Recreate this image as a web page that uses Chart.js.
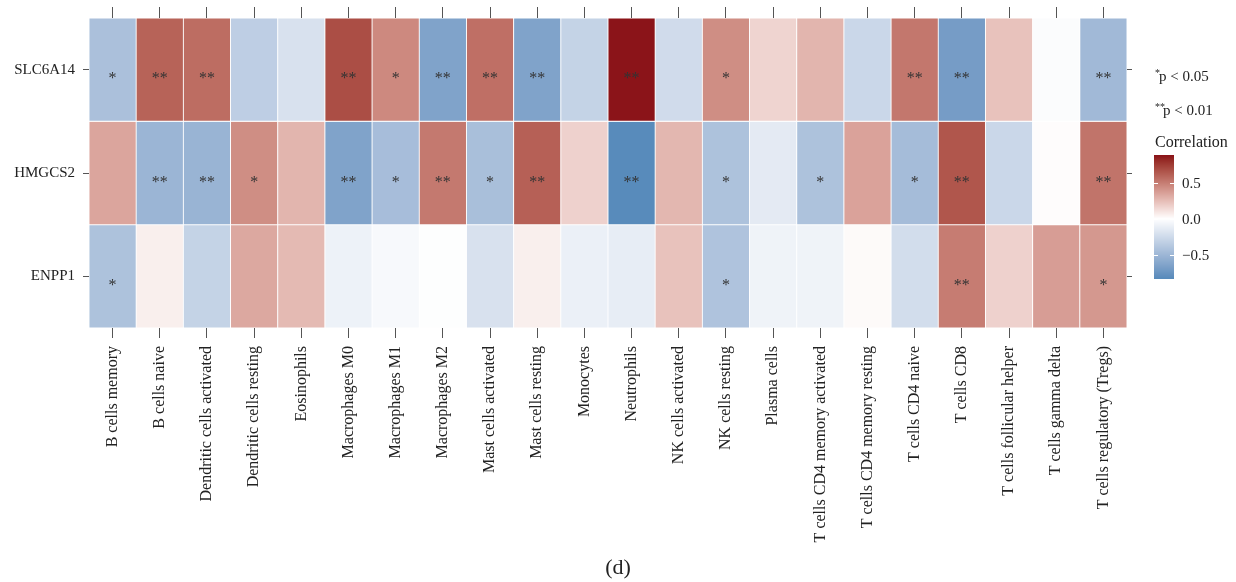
<!DOCTYPE html>
<html>
<head>
<meta charset="utf-8">
<script src="https://cdn.jsdelivr.net/npm/chart.js@4.4.1/dist/chart.umd.min.js"></script>
<style>
  html, body { margin: 0; padding: 0; background: #ffffff; }
  #wrap { width: 1236px; height: 582px; position: relative; }
</style>
</head>
<body>
<div id="wrap"><canvas id="c" width="1236" height="582"></canvas></div>
<script>
const cellTypes = [
  "B cells memory", "B cells naive", "Dendritic cells activated", "Dendritic cells resting",
  "Eosinophils", "Macrophages M0", "Macrophages M1", "Macrophages M2",
  "Mast cells activated", "Mast cells resting", "Monocytes", "Neutrophils",
  "NK cells activated", "NK cells resting", "Plasma cells", "T cells CD4 memory activated",
  "T cells CD4 memory resting", "T cells CD4 naive", "T cells CD8", "T cells follicular helper",
  "T cells gamma delta", "T cells regulatory (Tregs)"
];
const genes = ["SLC6A14", "HMGCS2", "ENPP1"];

const corrSLC6A14 = [-0.43, 0.60, 0.56, -0.33, -0.20, 0.68, 0.45, -0.64, 0.55, -0.64, -0.30, 0.87, -0.24, 0.43, 0.16, 0.28, -0.27, 0.52, -0.69, 0.23, -0.02, -0.48];
const corrHMGCS2  = [0.34, -0.51, -0.52, 0.43, 0.28, -0.64, -0.45, 0.51, -0.44, 0.61, 0.17, -0.82, 0.27, -0.42, -0.14, -0.42, 0.35, -0.46, 0.65, -0.27, 0.01, 0.53];
const corrENPP1   = [-0.42, 0.06, -0.30, 0.33, 0.26, -0.09, -0.04, -0.01, -0.20, 0.06, -0.10, -0.12, 0.23, -0.41, -0.08, -0.08, 0.02, -0.23, 0.50, 0.17, 0.37, 0.39];

const sigSLC6A14 = ["*","**","**","","","**","*","**","**","**","","**","","*","","","","**","**","","","**"];
const sigHMGCS2  = ["","**","**","*","","**","*","**","*","**","","**","","*","","*","","*","**","","","**"];
const sigENPP1   = ["*","","","","","","","","","","","","","*","","","","","**","","","*"];

const colorbarTicks = [0.5, 0.0, -0.5];
const colorbarTickLabels = ["0.5", "0.0", "\u22120.5"];

const corr = [corrSLC6A14, corrHMGCS2, corrENPP1];
const sig = [sigSLC6A14, sigHMGCS2, sigENPP1];

const allVals = corr.flat();
const vMax = Math.max(...allVals);
const vMin = Math.min(...allVals);
const vAbs = Math.max(Math.abs(vMax), Math.abs(vMin));

// ---- colour scale (Lab interpolation, like ggplot2 gradient2) ----
const LOW = "#4C84B7", MID = "#FFFFFF", HIGH = "#8B1419";
function hexToRgb(h){ h=h.replace('#',''); return [0,2,4].map(i=>parseInt(h.substr(i,2),16)); }
function s2l(c){ c/=255; return c<=0.04045 ? c/12.92 : Math.pow((c+0.055)/1.055,2.4); }
function l2s(c){ const v = c<=0.0031308 ? 12.92*c : 1.055*Math.pow(c,1/2.4)-0.055; return Math.round(Math.max(0,Math.min(1,v))*255); }
function rgbToLab(rgb){
  const [R,G,B] = rgb.map(s2l);
  const X=(0.4124*R+0.3576*G+0.1805*B)/0.95047, Y=(0.2126*R+0.7152*G+0.0722*B), Z=(0.0193*R+0.1192*G+0.9505*B)/1.08883;
  const f=t=> t>0.008856 ? Math.cbrt(t) : 7.787*t+16/116;
  const fx=f(X), fy=f(Y), fz=f(Z);
  return [116*fy-16, 500*(fx-fy), 200*(fy-fz)];
}
function labToRgb(lab){
  const [L,a,b]=lab; const fy=(L+16)/116, fx=fy+a/500, fz=fy-b/200;
  const fi=f=>{const f3=f*f*f; return f3>0.008856 ? f3 : (f-16/116)/7.787;};
  const X=fi(fx)*0.95047, Y=fi(fy), Z=fi(fz)*1.08883;
  const R=3.2406*X-1.5372*Y-0.4986*Z, G=-0.9689*X+1.8758*Y+0.0415*Z, B=0.0557*X-0.2040*Y+1.0570*Z;
  return [l2s(R),l2s(G),l2s(B)];
}
const labLow=rgbToLab(hexToRgb(LOW)), labMid=rgbToLab(hexToRgb(MID)), labHigh=rgbToLab(hexToRgb(HIGH));
function colorFor(v){
  let t = Math.max(-1, Math.min(1, v / vAbs));
  const end = t >= 0 ? labHigh : labLow; t = Math.abs(t);
  const lab = [0,1,2].map(i => labMid[i] + (end[i]-labMid[i])*t);
  const c = labToRgb(lab);
  return `rgb(${c[0]},${c[1]},${c[2]})`;
}

const FONT = "'Liberation Serif', 'DejaVu Serif', serif";

const datasets = genes.map((g, r) => {
  const base = genes.length - 1 - r;
  return {
    label: g,
    data: cellTypes.map(() => [base, base + 1]),
    backgroundColor: corr[r].map(colorFor),
    borderColor: "#ffffff",
    borderWidth: 0.8,
    borderSkipped: false,
    grouped: false,
    barPercentage: 1,
    categoryPercentage: 1
  };
});

const geneAt = v => genes[genes.length - 1 - Math.floor(v)];
const rowTicks = s => { s.ticks = genes.map((g, i) => ({ value: i + 0.5 })); };

const starsPlugin = {
  id: 'stars',
  afterDatasetsDraw(chart) {
    const ctx = chart.ctx;
    ctx.save();
    ctx.fillStyle = "#333333";
    ctx.font = `16px ${FONT}`;
    ctx.textAlign = "center";
    ctx.textBaseline = "alphabetic";
    chart.data.datasets.forEach((ds, r) => {
      const meta = chart.getDatasetMeta(r);
      meta.data.forEach((el, i) => {
        const s = sig[r][i];
        if (!s) return;
        const cy = (el.y + el.base) / 2;
        ctx.fillText(s, el.x, cy + 13.5);
      });
    });
    ctx.restore();
  }
};

const legendPlugin = {
  id: 'sideLegend',
  afterDraw(chart) {
    const ctx = chart.ctx;
    const area = chart.chartArea;
    ctx.save();
    ctx.fillStyle = "#222222";
    ctx.textAlign = "left";
    ctx.textBaseline = "alphabetic";
    const x0 = area.right + 28;
    // significance notes
    ctx.font = `10px ${FONT}`; ctx.fillText("*", x0, 76);
    ctx.font = `15px ${FONT}`; ctx.fillText("p < 0.05", x0 + 4, 81);
    ctx.font = `10px ${FONT}`; ctx.fillText("**", x0, 110);
    ctx.font = `15px ${FONT}`; ctx.fillText("p < 0.01", x0 + 8, 115);
    ctx.font = `16px ${FONT}`; ctx.fillText("Correlation", x0, 147);
    // colour bar
    const bx = x0 - 1, bw = 20, zeroY = 218.8, pxPerUnit = 72.3;
    const yOf = v => zeroY - v * pxPerUnit;
    const top = yOf(vMax), bottom = yOf(vMin);
    for (let y = Math.floor(top); y < Math.ceil(bottom); y++) {
      const v = (zeroY - (y + 0.5)) / pxPerUnit;
      ctx.fillStyle = colorFor(Math.max(vMin, Math.min(vMax, v)));
      ctx.fillRect(bx, y, bw, 1);
    }
    ctx.strokeStyle = "#ffffff"; ctx.lineWidth = 1;
    colorbarTicks.forEach(v => {
      const y = Math.round(yOf(v)) + 0.5;
      ctx.beginPath();
      ctx.moveTo(bx, y); ctx.lineTo(bx + 4, y);
      ctx.moveTo(bx + bw - 4, y); ctx.lineTo(bx + bw, y);
      ctx.stroke();
    });
    ctx.fillStyle = "#222222";
    ctx.font = `15px ${FONT}`;
    ctx.textBaseline = "middle";
    colorbarTicks.forEach((v, i) => ctx.fillText(colorbarTickLabels[i], bx + bw + 8, yOf(v) + 1.5));
    // panel label
    ctx.textAlign = "center";
    ctx.textBaseline = "alphabetic";
    ctx.font = `22px ${FONT}`;
    ctx.fillText("(d)", 618, 574);
    ctx.restore();
  }
};

const tickGrid = (len) => ({ display: true, drawOnChartArea: false, drawTicks: true, tickLength: len, offset: false, color: "#555555", lineWidth: 1 });

new Chart(document.getElementById('c'), {
  type: 'bar',
  data: { labels: cellTypes, datasets },
  options: {
    responsive: false,
    animation: false,
    layout: { padding: 0 },
    plugins: { legend: { display: false }, tooltip: { enabled: false }, title: { display: false } },
    scales: {
      x: {
        type: 'category', position: 'bottom', offset: true,
        grid: tickGrid(10), border: { display: false },
        ticks: { autoSkip: false, maxRotation: 90, minRotation: 90, padding: 8, color: "#222222", font: { family: FONT, size: 16 } },
        afterFit: s => { s.height = 254; }
      },
      x2: {
        type: 'category', position: 'top', offset: true, labels: cellTypes,
        grid: tickGrid(11), border: { display: false },
        ticks: { display: false, autoSkip: false },
        afterFit: s => { s.height = 18; }
      },
      y: {
        type: 'linear', position: 'left', min: 0, max: genes.length,
        afterBuildTicks: rowTicks,
        grid: tickGrid(6), border: { display: false },
        ticks: { padding: 8, color: "#222222", font: { family: FONT, size: 15 }, callback: v => geneAt(v) },
        afterFit: s => { s.width = 89; }
      },
      y2: {
        type: 'linear', position: 'right', min: 0, max: genes.length,
        afterBuildTicks: rowTicks,
        grid: tickGrid(5), border: { display: false },
        ticks: { display: false },
        afterFit: s => { s.width = 109; }
      }
    }
  },
  plugins: [starsPlugin, legendPlugin]
});
</script>
</body>
</html>
